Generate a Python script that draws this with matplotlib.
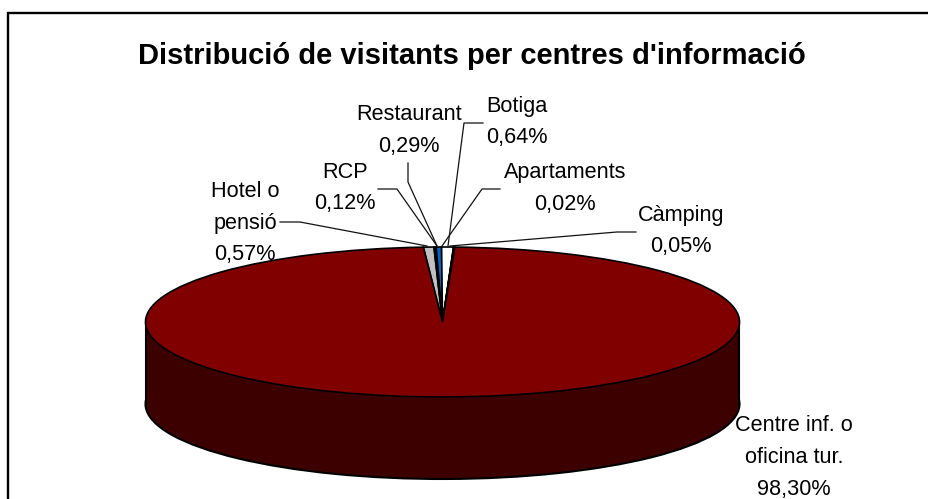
import matplotlib
matplotlib.use("Agg")
import matplotlib.pyplot as plt

W, H = 929, 499
labels = ["Hotel o\npensió", "RCP", "Restaurant", "Botiga", "Apartaments", "Càmping", "Centre inf. o\noficina tur."]
values = [0.57, 0.12, 0.29, 0.64, 0.02, 0.05, 98.30]
value_text = ["0,57%", "0,12%", "0,29%", "0,64%", "0,02%", "0,05%", "98,30%"]
top_colors = ["#C0C0C0", "#000000", "#0066CC", "#FFFFFF", "#333333", "#333333", "#800000"]
side_color = "#3D0000"

CX, CY, RX, RY, DEPTH = 442.5, 322, 297, 75, 82
FS = 15.6
plt.rcParams["font.family"] = ["Liberation Sans", "DejaVu Sans"]


def dx(p):
    return (p - CX) / RX


def dy(p):
    return (CY - p) / RY


fig = plt.figure(figsize=(W / 100, H / 100), dpi=100, facecolor="white")
ax = fig.add_axes([0, 0, 1, 1])

start = 93.7
side, _ = ax.pie(values, colors=[side_color] * len(values), startangle=start, counterclock=False,
                 center=(0, -DEPTH / RY), radius=1,
                 wedgeprops=dict(edgecolor="black", linewidth=1.5))
for w in side:
    w.set_zorder(1)
top, _ = ax.pie(values, colors=top_colors, startangle=start, counterclock=False,
                center=(0, 0), radius=1,
                wedgeprops=dict(edgecolor="black", linewidth=1.2, joinstyle="miter"))
for w in top:
    w.set_zorder(4)

ax.fill_between([-1, 1], [0, 0], [-DEPTH / RY] * 2, color=side_color, lw=0, zorder=2)
ax.plot([-1, -1], [0, -DEPTH / RY], color="black", lw=1.5, zorder=3)
ax.plot([1, 1], [0, -DEPTH / RY], color="black", lw=1.5, zorder=3)

ax.set_aspect("auto")
ax.set_xlim(dx(0), dx(W))
ax.set_ylim(dy(H), dy(0))
ax.axis("off")

# chart-area frame: left and top only
ax.plot([dx(7.5), dx(7.5), dx(W)], [dy(H), dy(12.5), dy(12.5)], color="black", lw=1.7,
        zorder=5, solid_joinstyle="miter")

ax.text(dx(471.5), dy(56), "Distribució de visitants per centres d'informació",
        ha="center", va="center", fontsize=21, fontweight="bold", color="black")

label_pos = [(245, 223), (345, 188), (409, 130.5), (517, 122), (565, 188.5), (681, 231), (794, 457.5)]
for lab, val, (px, py) in zip(labels, value_text, label_pos):
    ax.text(dx(px), dy(py), lab + "\n" + val, ha="center", va="center",
            fontsize=FS, color="black", linespacing=1.68, zorder=6)

leaders = [
    [(280, 222), (300, 222), (427, 246)],
    [(378, 189), (397, 189), (437, 246)],
    [(408, 163), (408, 182), (437, 246)],
    [(483, 123), (464, 123), (448, 246)],
    [(500, 189), (482, 189), (442, 246)],
    [(636, 232), (617, 232), (450, 246)],
]
for pts in leaders:
    ax.plot([dx(p[0]) for p in pts], [dy(p[1]) for p in pts], color="#111111", lw=0.9, zorder=5)

fig.savefig("out.png", dpi=100, facecolor="white")
